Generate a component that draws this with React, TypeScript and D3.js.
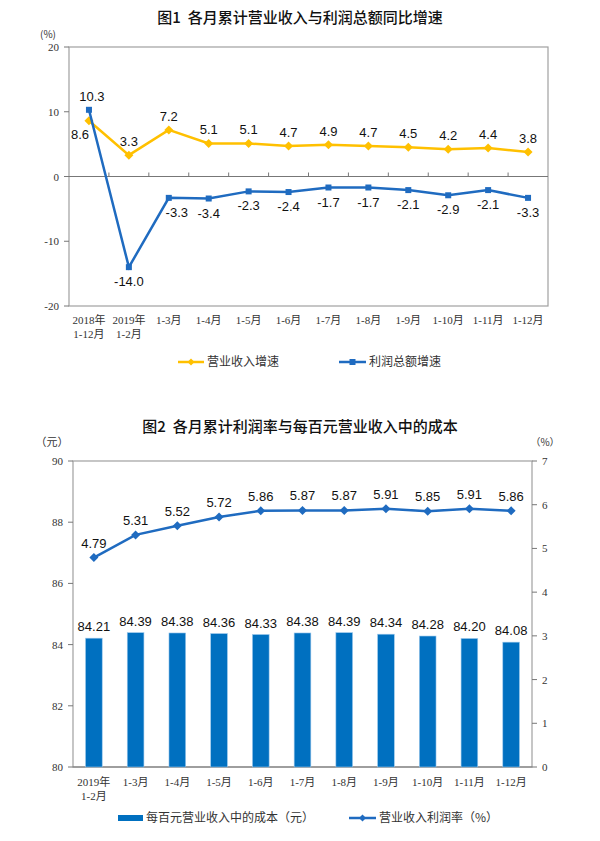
import React from 'react';
import * as d3 from 'd3';

// chart 1: cumulative year-on-year growth (%)
const months1 = [['2018年', '1-12月'], ['2019年', '1-2月'], ['1-3月'], ['1-4月'], ['1-5月'], ['1-6月'], ['1-7月'], ['1-8月'], ['1-9月'], ['1-10月'], ['1-11月'], ['1-12月']];
const revenueGrowth = [8.6, 3.3, 7.2, 5.1, 5.1, 4.7, 4.9, 4.7, 4.5, 4.2, 4.4, 3.8];
const profitGrowth = [10.3, -14.0, -3.3, -3.4, -2.3, -2.4, -1.7, -1.7, -2.1, -2.9, -2.1, -3.3];
const ticks1 = [-20, -10, 0, 10, 20];

// chart 2: cost per 100 yuan of revenue (bars) and profit margin (line)
const months2 = [['2019年', '1-2月'], ['1-3月'], ['1-4月'], ['1-5月'], ['1-6月'], ['1-7月'], ['1-8月'], ['1-9月'], ['1-10月'], ['1-11月'], ['1-12月']];
const costPer100 = [84.21, 84.39, 84.38, 84.36, 84.33, 84.38, 84.39, 84.34, 84.28, 84.20, 84.08];
const profitMargin = [4.79, 5.31, 5.52, 5.72, 5.86, 5.87, 5.87, 5.91, 5.85, 5.91, 5.86];
const ticksLeft2 = [80, 82, 84, 86, 88, 90];
const ticksRight2 = [0, 1, 2, 3, 4, 5, 6, 7];

const YELLOW = '#FFC000';
const BLUE = '#1F6BC0';
const BAR = '#0070C0';
const FRAME = '#A0A0A0';
const SERIF = '"Liberation Serif", "Noto Sans CJK SC", serif';
const SANS = '"Liberation Sans", Arial, sans-serif';
const CJK = '"Noto Sans CJK SC", sans-serif';

function Diamond({ x, y, r, fill }: { x: number; y: number; r: number; fill: string }) {
  return <path d={`M${x},${y - r}L${x + r},${y}L${x},${y + r}L${x - r},${y}Z`} fill={fill} />;
}

function Chart1() {
  const left = 69, right = 548, top = 47, bottom = 306;
  const x = d3.scaleBand<number>().domain(d3.range(months1.length)).range([left, right]);
  const y = d3.scaleLinear().domain([-20, 20]).range([bottom, top]);
  const cx = (i: number) => (x(i) as number) + x.bandwidth() / 2;
  const line = d3.line<number>().x((_, i) => cx(i)).y(d => y(d));

  // label nudges where the line would run through the text
  const profitDx = (i: number) => (i === 0 ? 3 : i === 2 ? 8 : 0);

  return (
    <g>
      <text x={300} y={23} textAnchor="middle" fontFamily={CJK} fontSize={15} fontWeight={500} fill="#111" style={{ whiteSpace: 'pre' }}>
        {'图1  各月累计营业收入与利润总额同比增速'}
      </text>
      <text x={48} y={38} textAnchor="middle" fontFamily={CJK} fontSize={10} fill="#333">(%)</text>
      <rect x={left} y={top} width={right - left} height={bottom - top} fill="none" stroke={FRAME} strokeWidth={1.2} />
      {ticks1.map(t => (
        <g key={t}>
          <line x1={left - 5} x2={left} y1={y(t)} y2={y(t)} stroke="#777" />
          <text x={left - 10} y={y(t) + 4} textAnchor="end" fontFamily={SERIF} fontSize={11} fill="#333">{t}</text>
        </g>
      ))}
      <line x1={left} x2={right} y1={y(0)} y2={y(0)} stroke="#777" strokeWidth={1.2} />
      {d3.range(1, months1.length).map(i => (
        <line key={i} x1={x(i)} x2={x(i)} y1={y(0)} y2={y(0) - 4} stroke="#777" />
      ))}
      {months1.map((m, i) =>
        m.map((s, k) => (
          <text key={i + '-' + k} x={cx(i)} y={324 + k * 14} textAnchor="middle" fontFamily={SERIF} fontSize={11} fill="#333">{s}</text>
        ))
      )}

      <path d={line(revenueGrowth) || ''} fill="none" stroke={YELLOW} strokeWidth={2.5} />
      {revenueGrowth.map((v, i) => <Diamond key={i} x={cx(i)} y={y(v)} r={4.5} fill={YELLOW} />)}
      <path d={line(profitGrowth) || ''} fill="none" stroke={BLUE} strokeWidth={2.5} />
      {profitGrowth.map((v, i) => (
        <rect key={i} x={cx(i) - 3} y={y(v) - 3} width={6} height={6} fill={BLUE} />
      ))}

      {revenueGrowth.map((v, i) => (
        <text key={i} x={i === 0 ? cx(i) - 9 : cx(i)} y={i === 0 ? y(v) + 18 : y(v) - 9}
          textAnchor="middle" fontFamily={SANS} fontSize={13} fill="#111">{v.toFixed(1)}</text>
      ))}
      {profitGrowth.map((v, i) => (
        <text key={i} x={cx(i) + profitDx(i)} y={i === 0 ? y(v) - 9 : y(v) + 19}
          textAnchor="middle" fontFamily={SANS} fontSize={13} fill="#111">{v.toFixed(1)}</text>
      ))}

      <line x1={178} x2={204} y1={362} y2={362} stroke={YELLOW} strokeWidth={2.5} />
      <Diamond x={191} y={362} r={3.5} fill={YELLOW} />
      <text x={207} y={366} fontFamily={CJK} fontSize={12} fill="#333">营业收入增速</text>
      <line x1={339} x2={366} y1={362} y2={362} stroke={BLUE} strokeWidth={2.5} />
      <rect x={349.5} y={359} width={6} height={6} fill={BLUE} />
      <text x={369} y={366} fontFamily={CJK} fontSize={12} fill="#333">利润总额增速</text>
    </g>
  );
}

function Chart2() {
  const left = 73, right = 532, top = 461, bottom = 767;
  const x = d3.scaleBand<number>().domain(d3.range(months2.length)).range([left, right]).paddingInner(0.6).paddingOuter(0.3);
  const yL = d3.scaleLinear().domain([80, 90]).range([bottom, top]);
  const yR = d3.scaleLinear().domain([0, 7]).range([bottom, top]);
  const cx = (i: number) => (x(i) as number) + x.bandwidth() / 2;
  const line = d3.line<number>().x((_, i) => cx(i)).y(d => yR(d));

  return (
    <g>
      <text x={300} y={432} textAnchor="middle" fontFamily={CJK} fontSize={15} fontWeight={500} fill="#111" style={{ whiteSpace: 'pre' }}>
        {'图2  各月累计利润率与每百元营业收入中的成本'}
      </text>
      <text x={52} y={446} textAnchor="middle" fontFamily={CJK} fontSize={11} fill="#333">（元）</text>
      <text x={545} y={446} textAnchor="middle" fontFamily={CJK} fontSize={10} fill="#333">（%）</text>
      <rect x={left} y={top} width={right - left} height={bottom - top} fill="none" stroke={FRAME} strokeWidth={1.2} />
      {ticksLeft2.map(t => (
        <g key={t}>
          <line x1={left - 5} x2={left} y1={yL(t)} y2={yL(t)} stroke="#777" />
          <text x={left - 10} y={yL(t) + 4} textAnchor="end" fontFamily={SERIF} fontSize={11} fill="#333">{t}</text>
        </g>
      ))}
      {ticksRight2.map(t => (
        <g key={t}>
          <line x1={right} x2={right + 5} y1={yR(t)} y2={yR(t)} stroke="#777" />
          <text x={right + 10} y={yR(t) + 4} textAnchor="start" fontFamily={SERIF} fontSize={11} fill="#333">{t}</text>
        </g>
      ))}
      <line x1={left} x2={right} y1={bottom} y2={bottom} stroke="#777" strokeWidth={1.2} />

      {costPer100.map((v, i) => (
        <rect key={i} x={x(i)} y={yL(v)} width={x.bandwidth()} height={bottom - yL(v)} fill={BAR} stroke="#9CC8EC" strokeWidth={0.6} />
      ))}
      {costPer100.map((v, i) => (
        <text key={i} x={cx(i)} y={yL(v) - 7} textAnchor="middle" fontFamily={SANS} fontSize={13} fill="#111">{v.toFixed(2)}</text>
      ))}

      <path d={line(profitMargin) || ''} fill="none" stroke={BLUE} strokeWidth={2.5} />
      {profitMargin.map((v, i) => <Diamond key={i} x={cx(i)} y={yR(v)} r={4.5} fill={BLUE} />)}
      {profitMargin.map((v, i) => (
        <text key={i} x={cx(i)} y={yR(v) - 10} textAnchor="middle" fontFamily={SANS} fontSize={13} fill="#111">{v.toFixed(2)}</text>
      ))}

      {months2.map((m, i) =>
        m.map((s, k) => (
          <text key={i + '-' + k} x={cx(i)} y={786 + k * 14} textAnchor="middle" fontFamily={SERIF} fontSize={11} fill="#333">{s}</text>
        ))
      )}

      <rect x={118} y={815} width={25} height={6} fill={BAR} />
      <text x={146} y={822} fontFamily={CJK} fontSize={12} fill="#333">每百元营业收入中的成本（元）</text>
      <line x1={349} x2={376} y1={818} y2={818} stroke={BLUE} strokeWidth={2.5} />
      <Diamond x={362.5} y={818} r={3.5} fill={BLUE} />
      <text x={379} y={822} fontFamily={CJK} fontSize={12} fill="#333">营业收入利润率（%）</text>
    </g>
  );
}

export default function App() {
  return (
    <svg width={600} height={841} style={{ position: 'absolute', left: 0, top: 0, background: '#fff' }}>
      <rect x={0} y={0} width={600} height={841} fill="#fff" />
      <Chart1 />
      <Chart2 />
    </svg>
  );
}
